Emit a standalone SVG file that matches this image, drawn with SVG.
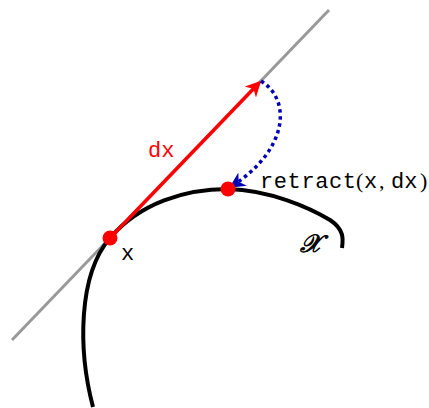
<svg xmlns="http://www.w3.org/2000/svg" width="429" height="408" viewBox="0 0 429 408">
<style>
.tt{font-family:"Liberation Mono","DejaVu Sans Mono",monospace;font-size:22px}
.rm{font-family:"Liberation Serif","DejaVu Serif",serif;font-size:22px}
</style>
<defs>
<marker id="ar" viewBox="0 0 10 10" refX="8" refY="5" markerWidth="4.5" markerHeight="4.5" markerUnits="strokeWidth" orient="auto">
<path d="M0,0 L10,5 L0,10 L3,5 Z" fill="#ff0000"/>
</marker>
<marker id="ab" viewBox="0 0 10 10" refX="8" refY="5" markerWidth="4.5" markerHeight="4.5" markerUnits="strokeWidth" orient="auto">
<path d="M0,0 L10,5 L0,10 L3,5 Z" fill="#0000b3"/>
</marker>
</defs>
<g id="tangent">
<line x1="12" y1="340" x2="329" y2="10" stroke="#999999" stroke-width="3"/>
</g>
<g id="manifold">
<path d="M93,407 C78,350 78,275 110,238 C140,203 185,189 228,189 C270,190 310,208 330,220 C345,230 343,240 342,248" fill="none" stroke="#000" stroke-width="4"/>
<text x="300" y="252" font-family="DejaVu Serif,serif" font-style="italic" font-size="25" stroke="#000" stroke-width="0.9">𝒳</text>
</g>
<g id="connectors">
<line x1="110" y1="238" x2="259" y2="83" stroke="#ff0000" stroke-width="3.5" marker-end="url(#ar)"/>
<path d="M261,81 C292,100 288,150 232,186" fill="none" stroke="#0000b3" stroke-width="3.5" stroke-dasharray="3.5,3.5" marker-end="url(#ab)"/>
</g>
<g id="node-x">
<circle cx="110" cy="238" r="7.5" fill="#ff0000"/>
<text class="tt" x="121" y="260">x</text>
</g>
<g id="node-retract">
<circle cx="228" cy="189" r="7.5" fill="#ff0000"/>
<text x="260" y="188"><tspan class="tt" textLength="96">retract</tspan><tspan class="rm" x="356">(</tspan><tspan class="tt" x="364">x</tspan><tspan class="rm" x="379">,</tspan><tspan class="tt" x="391">dx</tspan><tspan class="rm" x="420">)</tspan></text>
</g>
<g id="label-dx">
<text class="tt" x="148" y="157" fill="#ff0000">dx</text>
</g>
</svg>
